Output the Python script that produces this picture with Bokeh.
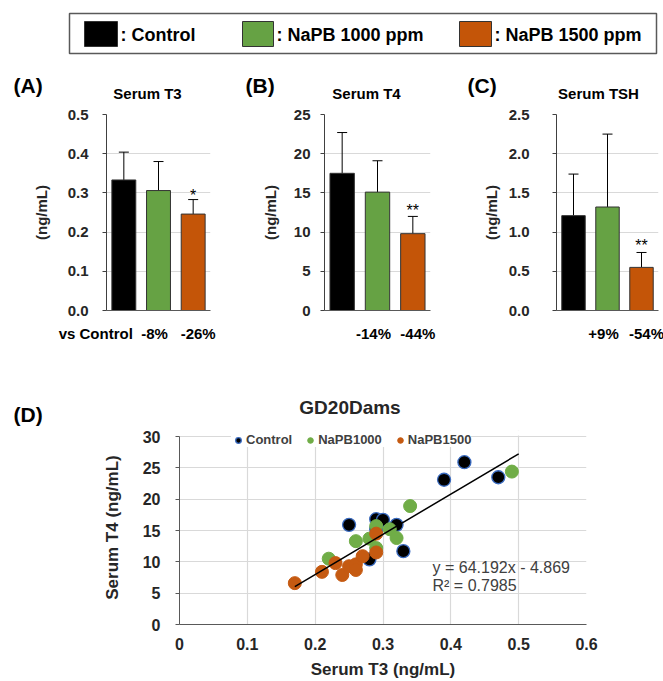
from bokeh.plotting import figure
from bokeh.layouts import column, row
from bokeh.models import (Range1d, Label, Whisker, TeeHead, ColumnDataSource,
                          Legend, LegendItem, FixedTicker, NumeralTickFormatter,
                          BoxAnnotation)
from bokeh.core.properties import value
from bokeh.embed import file_html
from bokeh.resources import INLINE

FONT = "Liberation Sans"

# ---------------- data ----------------
groups = ["Control", "NaPB 1000 ppm", "NaPB 1500 ppm"]
bar_colors = ["#000000", "#66A244", "#C45508"]
bar_x = [1, 2, 3]

t3_mean = [0.333, 0.306, 0.246]
t3_sd = [0.071, 0.074, 0.037]
t4_mean = [17.5, 15.1, 9.8]
t4_sd = [5.2, 4.0, 2.2]
tsh_mean = [1.21, 1.32, 0.55]
tsh_sd = [0.53, 0.93, 0.19]

t3_ticks = [0.0, 0.1, 0.2, 0.3, 0.4, 0.5]
t4_ticks = [0, 5, 10, 15, 20, 25]
tsh_ticks = [0.0, 0.5, 1.0, 1.5, 2.0, 2.5]

t3_change = ["", "-8%", "-26%"]
t4_change = ["", "-14%", "-44%"]
tsh_change = ["", "+9%", "-54%"]

t3_sig = ["", "", "*"]
t4_sig = ["", "", "**"]
tsh_sig = ["", "", "**"]

scatter_names = ["Control", "NaPB1000", "NaPB1500"]
scatter_colors = ["#000000", "#70AD47", "#C55A11"]
ctrl_t3 = [0.25, 0.29, 0.30, 0.32, 0.33, 0.28, 0.39, 0.42, 0.47, 0.29]
ctrl_t4 = [15.9, 16.8, 16.7, 15.9, 11.7, 10.4, 23.1, 25.9, 23.5, 15.2]
n1000_t3 = [0.22, 0.26, 0.28, 0.29, 0.31, 0.32, 0.29, 0.34, 0.49]
n1000_t4 = [10.5, 13.3, 13.7, 15.7, 15.2, 13.8, 12.2, 18.9, 24.4]
n1500_t3 = [0.17, 0.21, 0.23, 0.24, 0.25, 0.26, 0.26, 0.27, 0.29, 0.29]
n1500_t4 = [6.6, 8.4, 9.8, 7.9, 9.3, 9.6, 8.7, 10.9, 14.5, 11.5]
fit_slope = 64.192
fit_intercept = -4.869
fit_r2 = 0.7985
fit_x = [0.17, 0.50]

x_ticks_d = [0, 0.1, 0.2, 0.3, 0.4, 0.5, 0.6]
y_ticks_d = [0, 5, 10, 15, 20, 25, 30]

# ---------------- layout geometry (pixels) ----------------
W_ALL = 663
LEG_H = 62
HEAD_H = 44       # 62 .. 106
BARFIG_H = 212    # 106 .. 318 (frame 114 .. 310)
FOOT_H = 23       # 318 .. 341
DHEAD_H = 87      # 341 .. 428
D_H = 253         # 428 .. 681
D_TOPB = 2        # frame top at 430
D_BOTB = 57       # frame bottom at 624
D_Y30 = 436       # pixel row of the 30 line


def base_fig(W, H, **kw):
    p = figure(width=W, height=H, output_backend="svg", toolbar_location=None,
               frame_align=False, **kw)
    p.outline_line_color = None
    return p


def text_fig(W, H, x_range=None):
    p = base_fig(W, H, x_range=x_range if x_range is not None else Range1d(0, W),
                 y_range=Range1d(H, 0), min_border=0,
                 x_axis_location=None, y_axis_location=None)
    p.grid.visible = False
    return p


def put_text(p, x, y, text, size, style="bold", align="left", color="#000000",
             x_offset=0):
    p.text(x=x, y=y, text=text, text_font=value(FONT), text_font_size=size,
           text_font_style=style, text_align=align, text_baseline="middle",
           text_color=color, x_offset=x_offset)


# ---------------- top legend ----------------
leg = text_fig(W_ALL, LEG_H)
leg.quad(left=[69], right=[656], top=[13], bottom=[53], fill_color=None,
         line_color="#595959", line_width=1.5)
leg.quad(left=[84, 242, 459], right=[117, 273, 491], top=[21] * 3, bottom=[46] * 3,
         fill_color=bar_colors, line_color="#333333", line_width=1)
put_text(leg, [120, 276, 494], [34] * 3, [": " + g for g in groups], "18px")


# ---------------- bar panels ----------------
def bar_panel(means, sds, ticks, fmt, letter, title, change, sig, W, bl, br,
              tick_standoff, axlab_standoff, letter_x, title_cx, lead=None, star_off=0):
    ymax = ticks[-1]
    frame_w = W - bl - br

    # header: panel letter and title
    head = text_fig(W, HEAD_H)
    put_text(head, [letter_x], [23], [letter], "21px")
    put_text(head, [title_cx], [31], [title], "15px", align="center")

    # bars
    p = base_fig(W, BARFIG_H, x_range=Range1d(0.5, 3.5), y_range=Range1d(0, ymax),
                 min_border_left=bl, min_border_right=br,
                 min_border_top=8, min_border_bottom=8)
    p.xgrid.visible = False
    tk = FixedTicker(ticks=ticks)
    p.yaxis.ticker = tk
    p.ygrid.ticker = tk
    p.ygrid.grid_line_color = "#D9D9D9"
    p.yaxis.formatter = NumeralTickFormatter(format=fmt)
    p.yaxis.axis_line_color = "#404040"
    p.yaxis.major_tick_line_color = "#404040"
    p.yaxis.major_tick_out = 4
    p.yaxis.major_tick_in = 0
    p.yaxis.minor_tick_line_color = None
    p.yaxis.major_label_standoff = tick_standoff
    p.yaxis.major_label_text_font = FONT
    p.yaxis.major_label_text_font_style = "bold"
    p.yaxis.major_label_text_font_size = "15px"
    p.yaxis.major_label_text_color = "#262626"
    p.yaxis.axis_label = "(ng/mL)"
    p.yaxis.axis_label_text_font = FONT
    p.yaxis.axis_label_text_font_style = "bold"
    p.yaxis.axis_label_text_font_size = "15px"
    p.yaxis.axis_label_text_color = "#262626"
    p.yaxis.axis_label_standoff = axlab_standoff

    p.xaxis.ticker = FixedTicker(ticks=[])
    p.xaxis.axis_line_color = "#595959"
    p.xaxis.major_tick_line_color = None
    p.xaxis.minor_tick_line_color = None
    p.xaxis.major_label_standoff = 0

    src = ColumnDataSource(dict(x=bar_x, top=means, color=bar_colors,
                                upper=[m + s for m, s in zip(means, sds)], lower=means))
    p.vbar(x="x", top="top", width=0.69, source=src, fill_color="color",
           line_color="#333333", line_width=1)
    p.add_layout(Whisker(base="x", upper="upper", lower="lower", source=src,
                         line_color="black", line_width=1,
                         upper_head=TeeHead(size=10, line_color="black", line_width=1),
                         lower_head=None))
    for i, s in enumerate(sig):
        if s:
            p.add_layout(Label(x=bar_x[i], y=means[i] + sds[i], text=s, text_font=FONT,
                               text_font_size="16px", text_align="center",
                               text_baseline="bottom", y_offset=star_off,
                               text_color="#000000"))

    # footer: change vs control (same x mapping as the bar frame)
    x0 = 0.5 - bl / frame_w * 3.0
    x1 = 3.5 + br / frame_w * 3.0
    foot = text_fig(W, FOOT_H, x_range=Range1d(x0, x1))
    shifts = [0, -4, 5]
    for i, t in enumerate(change):
        if t:
            put_text(foot, [bar_x[i]], [15], [t], "15px", align="center", x_offset=shifts[i])
    if lead:
        put_text(foot, [bar_x[0]], [15], [lead], "15px", align="right", x_offset=9)
    return column(head, p, foot, spacing=0)


pA = bar_panel(t3_mean, t3_sd, t3_ticks, "0.0", "(A)", "Serum T3", t3_change, t3_sig,
               W=220, bl=106, br=10, tick_standoff=14, axlab_standoff=15,
               letter_x=13, title_cx=147, lead="vs Control", star_off=-4)
pB = bar_panel(t4_mean, t4_sd, t4_ticks, "0", "(B)", "Serum T4", t4_change, t4_sig,
               W=220, bl=104, br=10, tick_standoff=10, axlab_standoff=12,
               letter_x=25, title_cx=146, star_off=-3)
pC = bar_panel(tsh_mean, tsh_sd, tsh_ticks, "0.0", "(C)", "Serum TSH", tsh_change, tsh_sig,
               W=223, bl=116, br=5, tick_standoff=23, axlab_standoff=6,
               letter_x=27, title_cx=158, star_off=-2)

# ---------------- scatter panel ----------------
dhead = text_fig(W_ALL, DHEAD_H)
put_text(dhead, [13], [73], ["(D)"], "21px")
put_text(dhead, [349.5], [66], ["GD20Dams"], "19px", align="center", color="#262626")

frame_top = LEG_H + HEAD_H + BARFIG_H + FOOT_H + DHEAD_H + D_TOPB
frame_bot = LEG_H + HEAD_H + BARFIG_H + FOOT_H + DHEAD_H + D_H - D_BOTB
y_top = y_ticks_d[-1] * (frame_bot - frame_top) / (frame_bot - D_Y30)

pD = base_fig(W_ALL, D_H, x_range=Range1d(0, 0.6), y_range=Range1d(0, y_top),
              min_border_left=179, min_border_right=W_ALL - 586,
              min_border_top=D_TOPB, min_border_bottom=D_BOTB)
xtk = FixedTicker(ticks=x_ticks_d)
ytk = FixedTicker(ticks=y_ticks_d)
pD.xaxis.ticker = xtk
pD.xgrid.ticker = xtk
pD.yaxis.ticker = ytk
pD.ygrid.ticker = ytk
pD.yaxis.bounds = (0, 30)
pD.grid.grid_line_color = "#D9D9D9"
pD.grid.grid_line_width = 1.2
pD.xaxis.formatter = NumeralTickFormatter(format="0.[0]")
for ax in (pD.xaxis, pD.yaxis):
    ax.axis_line_color = "#595959"
    ax.major_tick_line_color = "#595959"
    ax.minor_tick_line_color = None
    ax.major_tick_in = 0
    ax.major_label_text_font = FONT
    ax.major_label_text_font_style = "bold"
    ax.major_label_text_font_size = "16px"
    ax.major_label_text_color = "#262626"
    ax.axis_label_text_font = FONT
    ax.axis_label_text_font_style = "bold"
    ax.axis_label_text_font_size = "17px"
    ax.axis_label_text_color = "#262626"
pD.yaxis.major_tick_out = 4
pD.yaxis.major_label_standoff = 15
pD.yaxis.axis_label = "Serum T4 (ng/mL)"
pD.yaxis.axis_label_standoff = 18
pD.xaxis.major_tick_out = 0
pD.xaxis.major_label_standoff = 13
pD.xaxis.axis_label = "Serum T3 (ng/mL)"
pD.xaxis.axis_label_standoff = 7

r_c = pD.scatter(ctrl_t3, ctrl_t4, size=13, fill_color=scatter_colors[0],
                 line_color="#3A6BC0", line_width=1.3)
r_g = pD.scatter(n1000_t3, n1000_t4, size=13, fill_color=scatter_colors[1],
                 line_color=scatter_colors[1], line_width=1)
r_o = pD.scatter(n1500_t3, n1500_t4, size=13, fill_color=scatter_colors[2],
                 line_color=scatter_colors[2], line_width=1)
fit_y = [fit_slope * x + fit_intercept for x in fit_x]
pD.line(fit_x, fit_y, line_color="#000000", line_width=1.5)

# blank strip above the 30 line (plot area ends at 30)
pD.add_layout(BoxAnnotation(bottom=30.15, fill_color="white", fill_alpha=1,
                            line_color=None))

legD = Legend(items=[LegendItem(label=scatter_names[0], renderers=[r_c]),
                     LegendItem(label=scatter_names[1], renderers=[r_g]),
                     LegendItem(label=scatter_names[2], renderers=[r_o])],
              orientation="horizontal",
              location=(52, frame_bot - 440 - 7), padding=0, margin=0,
              spacing=11, glyph_width=14, glyph_height=14, label_standoff=1,
              label_text_font=FONT, label_text_font_size="13px",
              label_text_font_style="bold", label_text_color="#404040",
              label_height=14, border_line_color=None, background_fill_color="white",
              background_fill_alpha=1)
pD.add_layout(legD)

eq_x = 0.373
pD.add_layout(Label(x=eq_x, y=9.05, text="y = %.3fx - %.3f" % (fit_slope, -fit_intercept),
                    text_font=FONT, text_font_size="16px", text_color="#404040",
                    text_baseline="middle"))
pD.add_layout(Label(x=eq_x, y=6.19, text="R² = %.4f" % fit_r2,
                    text_font=FONT, text_font_size="16px", text_color="#404040",
                    text_baseline="middle"))

layout = column(leg, row(pA, pB, pC, spacing=0), column(dhead, pD, spacing=0), spacing=0)
open("out.html", "w").write(file_html(layout, INLINE))
